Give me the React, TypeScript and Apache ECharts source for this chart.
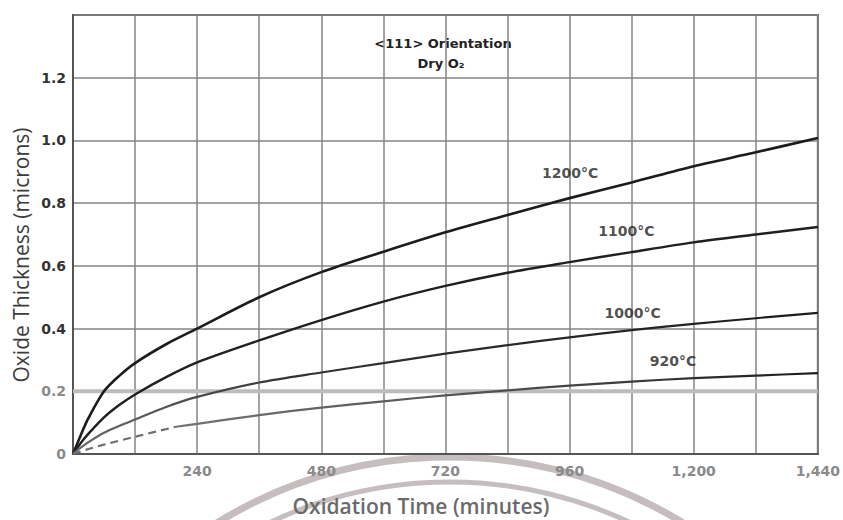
import React, { useEffect, useRef } from "react";
import * as echarts from "echarts";

// Oxidation time (minutes) and oxide thickness (microns)
const time1200 = [0, 15, 30, 60, 90, 120, 180, 240, 360, 480, 600, 720, 840, 960, 1080, 1200, 1320, 1440];
const thick1200 = [0, 0.06, 0.115, 0.2, 0.25, 0.29, 0.35, 0.4, 0.5, 0.58, 0.645, 0.707, 0.762, 0.816, 0.866, 0.918, 0.962, 1.008];

const time1100 = [0, 15, 30, 60, 90, 120, 180, 240, 360, 480, 600, 720, 840, 960, 1080, 1200, 1320, 1440];
const thick1100 = [0, 0.035, 0.065, 0.117, 0.157, 0.19, 0.245, 0.292, 0.362, 0.427, 0.486, 0.536, 0.578, 0.612, 0.644, 0.675, 0.7, 0.724];

const time1000 = [0, 15, 30, 60, 90, 120, 180, 240, 360, 480, 600, 720, 840, 960, 1080, 1200, 1320, 1440];
const thick1000 = [0, 0.02, 0.038, 0.068, 0.09, 0.11, 0.15, 0.182, 0.228, 0.26, 0.29, 0.32, 0.347, 0.372, 0.395, 0.415, 0.433, 0.45];

const time920Dashed = [0, 30, 60, 120, 199];
const thick920Dashed = [0, 0.016, 0.03, 0.055, 0.087];

const time920 = [199, 240, 360, 480, 600, 720, 840, 960, 1080, 1200, 1320, 1440];
const thick920 = [0.087, 0.096, 0.124, 0.148, 0.168, 0.187, 0.203, 0.218, 0.231, 0.242, 0.25, 0.258];

// emphasised reference line at 0.2 microns
const bandTime = [0, 1440];
const bandThick = [0.2, 0.2];

const curveNames = ["1200°C", "1100°C", "1000°C", "920°C"];
const curveLabelTime = [961, 1070, 1082, 1160];
const curveLabelThick = [0.896, 0.711, 0.45, 0.297];

const xLabelValues = [240, 480, 720, 960, 1200, 1440];
const xLabelTexts = ["240", "480", "720", "960", "1,200", "1,440"];

const titleLines = ["<111> Orientation", "Dry O₂"];
const xTitle = "Oxidation Time (minutes)";
const yTitle = "Oxide Thickness (microns)";

const pairs = (t: number[], v: number[]) => t.map((x, i) => [x, v[i]]);

export default function App() {
  const ref = useRef<HTMLDivElement>(null);
  useEffect(() => {
    if (!ref.current) return;
    const chart = echarts.init(ref.current, undefined, { renderer: "svg" });
    const labelFont = { fontFamily: "DejaVu Sans", fontWeight: "bold" as const, fontSize: 14 };
    const curve = { type: "line", showSymbol: false, smooth: 0.3, z: 3 };
    chart.setOption({
      animation: false,
      backgroundColor: "#ffffff",
      grid: { left: 73, right: 18, top: 15, bottom: 66, show: true, borderColor: "#555", borderWidth: 2 },
      xAxis: {
        type: "value",
        min: 0,
        max: 1440,
        interval: 120,
        axisLine: { show: true, lineStyle: { color: "#555", width: 2 } },
        axisTick: { show: false },
        splitLine: { show: true, lineStyle: { color: "#858585", width: 1.5 } },
        axisLabel: {
          ...labelFont,
          color: "#8a8a8a",
          margin: 10,
          showMaxLabel: true,
          formatter: (v: number) => {
            const i = xLabelValues.indexOf(v);
            return i >= 0 ? xLabelTexts[i] : "";
          },
        },
      },
      yAxis: {
        type: "value",
        min: 0,
        max: 1.4,
        interval: 0.2,
        axisLine: { show: true, lineStyle: { color: "#555", width: 2 } },
        axisTick: { show: false },
        splitLine: { show: true, lineStyle: { color: "#858585", width: 1.5 } },
        axisLabel: {
          ...labelFont,
          margin: 7,
          color: (v: any) => (Number(v) <= 0.21 ? "#8a8a8a" : "#333"),
          formatter: (v: number) => (v > 1.39 ? "" : v === 0 ? "0" : v.toFixed(1)),
        },
      },
      graphic: [
        { type: "circle", silent: true, z: -1, shape: { cx: 450, cy: 902, r: 445 }, style: { fill: "none", stroke: "#c6bebe", lineWidth: 7 } },
        { type: "circle", silent: true, z: -1, shape: { cx: 450, cy: 902, r: 420 }, style: { fill: "none", stroke: "#c6bebe", lineWidth: 5 } },
        { type: "text", x: 443, y: 43, style: { text: titleLines[0], fontFamily: "DejaVu Sans", fontWeight: "bold", fontSize: 13, fill: "#222", align: "center", verticalAlign: "middle" } },
        { type: "text", x: 441, y: 63, style: { text: titleLines[1], fontFamily: "DejaVu Sans", fontWeight: "bold", fontSize: 13, fill: "#222", align: "center", verticalAlign: "middle" } },
        { type: "text", x: 21, y: 255, rotation: Math.PI / 2, style: { text: yTitle, fontFamily: "Open Sans", fontSize: 21, fill: "#3c3c3c", align: "center", verticalAlign: "middle" } },
        { type: "text", x: 421, y: 506, style: { text: xTitle, fontFamily: "Open Sans", fontWeight: 600, fontSize: 21, fill: "#6a6a6a", align: "center", verticalAlign: "middle" } },
      ],
      series: [
        {
          type: "line", name: "0.2 band", data: pairs(bandTime, bandThick), showSymbol: false, silent: true, z: 1,
          lineStyle: { color: "#bcbcbc", width: 4 },
        },
        {
          ...curve, name: curveNames[0], data: pairs(time1200, thick1200),
          lineStyle: { color: "#1c1c1c", width: 2.6 },
        },
        {
          ...curve, name: curveNames[1], data: pairs(time1100, thick1100),
          lineStyle: { color: "#202020", width: 2.4 },
        },
        {
          ...curve, name: curveNames[2], data: pairs(time1000, thick1000),
          lineStyle: {
            width: 2.2,
            color: new echarts.graphic.LinearGradient(0, 0, 1, 0, [
              { offset: 0, color: "#6a6a6a" },
              { offset: 0.3, color: "#333" },
              { offset: 1, color: "#1c1c1c" },
            ]),
          },
        },
        {
          ...curve, name: curveNames[3], data: pairs(time920, thick920),
          lineStyle: {
            width: 2.2,
            color: new echarts.graphic.LinearGradient(0, 0, 1, 0, [
              { offset: 0, color: "#737373" },
              { offset: 0.5, color: "#505050" },
              { offset: 1, color: "#1c1c1c" },
            ]),
          },
        },
        {
          ...curve, name: curveNames[3] + " (dashed)", data: pairs(time920Dashed, thick920Dashed),
          lineStyle: { color: "#6f6f6f", width: 2.2, type: [8, 5] },
        },
        {
          type: "scatter", symbolSize: 0, silent: true, z: 4,
          data: curveNames.map((n, i) => ({ name: n, value: [curveLabelTime[i], curveLabelThick[i]] })),
          label: { show: true, position: "inside", formatter: "{b}", fontFamily: "DejaVu Sans", fontWeight: "bold", fontSize: 14, color: "#222" },
        },
      ],
    });
    return () => chart.dispose();
  }, []);
  return <div ref={ref} style={{ position: "absolute", left: 0, top: 0, width: 843, height: 520 }} />;
}
